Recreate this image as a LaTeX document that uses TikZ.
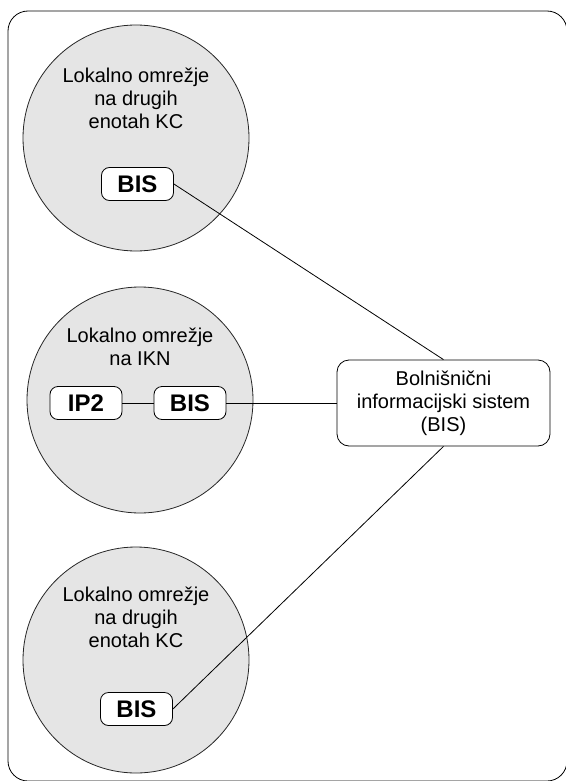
\documentclass[tikz,border=0pt]{standalone}
\usepackage{fontspec}
\setmainfont{Liberation Sans}
\begin{document}
\begin{tikzpicture}[x=1pt,y=-1pt,
  net/.style={circle, draw=black!85, fill=black!10, line width=0.8pt, minimum size=226pt, inner sep=0pt},
  bisbox/.style={draw, rounded corners=8pt, fill=white, minimum width=72pt, minimum height=33pt, inner sep=0pt, font=\fontsize{24}{28}\selectfont\bfseries, line width=0.8pt},
  nettitle/.style={align=center, font=\fontsize{20}{23}\selectfont, inner sep=0pt, anchor=north},
  sysbox/.style={draw, rounded corners=12pt, fill=white, minimum width=213pt, minimum height=86pt, align=center, font=\fontsize{20}{23}\selectfont, inner sep=0pt, line width=0.8pt},
  link/.style={line width=0.8pt}]
\useasboundingbox (0,0) rectangle (565,781);
\draw[line width=0.8pt, rounded corners=20pt] (8,11) rectangle (567,781);

% circles
\node[net] (c1) at (136,138) {};
\node[net] (c2) at (140,400) {};
\node[net] (c3) at (136,660) {};

% titles
\node[nettitle] (t1) at (136,68) {Lokalno omrežje\\na drugih\\enotah KC};
\node[nettitle] (t2) at (140,328) {Lokalno omrežje\\na IKN};
\node[nettitle] (t3) at (136,587) {Lokalno omrežje\\na drugih\\enotah KC};

% boxes
\node[bisbox] (bis1) at (137.5,184) {BIS};
\node[bisbox] (ip2) at (86,403) {IP2};
\node[bisbox] (bis2) at (190,403) {BIS};
\node[bisbox] (bis3) at (136.5,709) {BIS};

\node[sysbox] (sys) at (443.5,403) {Bolnišnični\\informacijski sistem\\(BIS)};

% links
\draw[link] (bis1.east) -- (sys.north);
\draw[link] (ip2.east) -- (bis2.west);
\draw[link] (bis2.east) -- (sys.west);
\draw[link] (bis3.east) -- (sys.south);
\end{tikzpicture}
\end{document}
